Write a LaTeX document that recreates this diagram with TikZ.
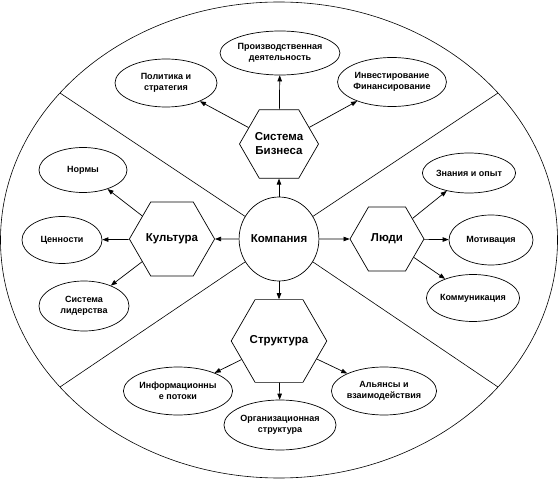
\documentclass[tikz,border=0pt]{standalone}
\usepackage{fontspec}
\setmainfont{Liberation Sans}
\usetikzlibrary{shapes.geometric,arrows.meta}
\begin{document}
\begin{tikzpicture}[x=1pt,y=1pt,
  line width=0.7pt,
  leaf/.style={draw,ellipse,inner sep=0pt,align=center,font=\fontsize{9}{11}\selectfont\bfseries},
  hub/.style={draw,regular polygon,regular polygon sides=6,minimum size=74pt,inner sep=0pt,align=center,font=\fontsize{11.5}{14}\selectfont\bfseries},
  arr/.style={-{Triangle[length=6pt,width=4.5pt]}},
  sep/.style={line width=0.6pt}]
\useasboundingbox (0,0) rectangle (560,480);
\node[draw,ellipse,minimum width=557,minimum height=476,inner sep=0pt,line width=0.6pt] (frame) at (279,240) {};
\node[draw,ellipse,minimum width=76,minimum height=84,inner sep=0pt,font=\fontsize{11.5}{14}\selectfont\bfseries] (comp) at (279,241) {Компания};
\coordinate (c1) at (60,387);
\coordinate (c2) at (498,387);
\coordinate (c3) at (60,93);
\coordinate (c4) at (498,93);
\draw[sep] (comp) -- (c1);
\draw[sep] (comp) -- (c2);
\draw[sep] (comp) -- (c3);
\draw[sep] (comp) -- (c4);
\node[hub] (bus) at (279,336) {Система\\Бизнеса};
\node[hub] (cult) at (172,241) {Культура};
\node[hub] (ppl) at (387,241) {Люди};
\node[hub] (str) at (279,139) {Структура};
\node[leaf,minimum width=112,minimum height=44] (prod) at (280,427) {Производственная\\деятельность};
\node[leaf,minimum width=102,minimum height=48] (pol) at (166,397) {Политика и\\стратегия};
\node[leaf,minimum width=100,minimum height=49] (inv) at (392,398) {Инвестирование\\Финансирование};
\node[leaf,minimum width=88,minimum height=45] (norm) at (83,310) {Нормы};
\node[leaf,minimum width=80,minimum height=47] (val) at (62,240) {Ценности};
\node[leaf,minimum width=90,minimum height=50] (lead) at (84,174) {Система\\лидерства};
\node[leaf,minimum width=88,minimum height=40] (know) at (469,307) {Знания и опыт};
\node[leaf,minimum width=84,minimum height=50] (mot) at (491,240) {Мотивация};
\node[leaf,minimum width=84,minimum height=47] (comm) at (473,182) {Коммуникация};
\node[leaf,minimum width=104,minimum height=48] (info) at (178,89) {Информационны\\е потоки};
\node[leaf,minimum width=106,minimum height=50] (org) at (280,55) {Организационная\\структура};
\node[leaf,minimum width=96,minimum height=48] (ally) at (384,89) {Альянсы и\\взаимодействия};
\draw[arr] (comp) -- (bus);
\draw[arr] (comp) -- (cult);
\draw[arr] (comp) -- (ppl);
\draw[arr] (comp) -- (str);
\draw[arr] (bus) -- (prod);
\draw[arr] (bus) -- (pol);
\draw[arr] (bus) -- (inv);
\draw[arr] (cult) -- (norm);
\draw[arr] (cult) -- (val);
\draw[arr] (cult) -- (lead);
\draw[arr] (ppl) -- (know);
\draw[arr] (ppl) -- (mot);
\draw[arr] (ppl) -- (comm);
\draw[arr] (str) -- (info);
\draw[arr] (str) -- (org);
\draw[arr] (str) -- (ally);
\end{tikzpicture}
\end{document}
